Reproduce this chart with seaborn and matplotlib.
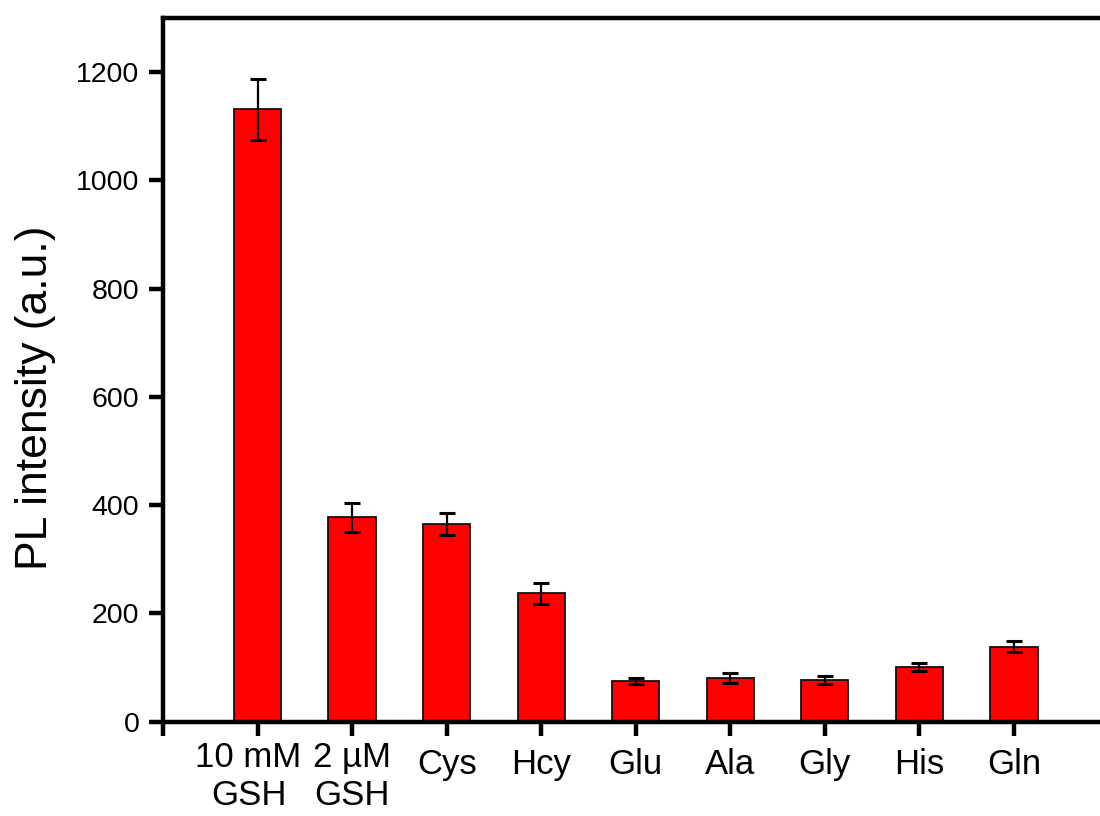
import matplotlib
matplotlib.use("Agg")
import matplotlib.pyplot as plt
import matplotlib.transforms as mtransforms
import numpy as np
import pandas as pd
import seaborn as sns

# Photoluminescence response to glutathione and other amino acids
categories = ["10 mM\nGSH", "2 µM\nGSH", "Cys", "Hcy", "Glu", "Ala", "Gly", "His", "Gln"]
intensity = [1131, 377, 365, 237, 75, 81, 77, 101, 138]
errors = [57, 27, 21, 19, 6, 9, 7.5, 8, 10]
y_ticks = [0, 200, 400, 600, 800, 1000, 1200]

df = pd.DataFrame({"sample": categories, "intensity": intensity})

sns.set_theme(style="ticks")
plt.rcParams["font.family"] = ["Liberation Sans", "DejaVu Sans"]

fig = plt.figure(figsize=(11, 8.16), dpi=100)
ax = fig.add_axes([163 / 1100, (816 - 721.5) / 816, (1108.5 - 163) / 1100, (721.5 - 18) / 816])

sns.barplot(data=df, x="sample", y="intensity", order=categories, color="#ff0000",
            saturation=1, width=0.5, edgecolor="#111111", linewidth=1.3,
            errorbar=None, ax=ax)
ax.errorbar(np.arange(len(categories)), intensity, yerr=errors, fmt="none",
            ecolor="black", elinewidth=1.6, capsize=5.8, capthick=2.2, zorder=5)

ax.set_xlim(-1, len(categories))
ax.set_ylim(0, 1300)
ax.set_xticks(np.arange(-1, len(categories)))
ax.set_xticklabels([""] + categories)
ax.set_yticks(y_ticks)
ax.set_yticklabels([str(t) for t in y_ticks])

ax.set_xlabel("")
ax.set_ylabel("PL intensity (a.u.)", fontsize=32, color="black")
ax.yaxis.set_label_coords(-0.113, 0.46)

for side in ["left", "bottom", "top"]:
    ax.spines[side].set_linewidth(3.2)
    ax.spines[side].set_color("black")
ax.spines["right"].set_visible(False)

ax.tick_params(axis="both", direction="out", length=10, width=3.2, colors="black",
               labelcolor="black")
ax.tick_params(axis="x", pad=9, labelsize=25)
ax.tick_params(axis="y", pad=7, labelsize=20.5)

# two-line labels sit a little higher; the first one is nudged left
for i, lbl in enumerate(ax.get_xticklabels()):
    text = lbl.get_text()
    lbl.set_linespacing(1.2)
    dx, dy = 0, 0
    if "\n" in text:
        dy = 7
    if i == 1:
        dx = -9
    if dx or dy:
        lbl.set_transform(lbl.get_transform() +
                          mtransforms.ScaledTranslation(dx / 100, dy / 100, fig.dpi_scale_trans))

fig.savefig("out.png", dpi=100, facecolor="white")
